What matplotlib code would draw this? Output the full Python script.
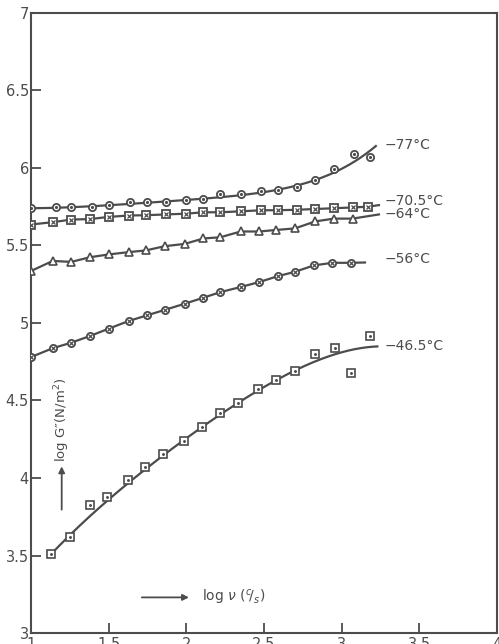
import numpy as np
import matplotlib
matplotlib.use("Agg")
import matplotlib.pyplot as plt

# log frequency (c/s) and log G'' (N/m^2) for each temperature
x_77 = [1.00, 1.16, 1.26, 1.39, 1.50, 1.64, 1.75, 1.87, 2.00, 2.11, 2.22, 2.35,
        2.48, 2.59, 2.71, 2.83, 2.95, 3.08, 3.18]
y_77 = [5.74, 5.75, 5.75, 5.75, 5.76, 5.78, 5.78, 5.78, 5.79, 5.80, 5.83, 5.83,
        5.85, 5.86, 5.88, 5.92, 5.99, 6.09, 6.07]
curve_x_77 = [1.00, 1.50, 2.00, 2.35, 2.59, 2.71, 2.83, 2.95, 3.08, 3.22]
curve_y_77 = [5.74, 5.76, 5.79, 5.83, 5.86, 5.88, 5.92, 5.975, 6.04, 6.14]

x_705 = [1.00, 1.14, 1.26, 1.38, 1.50, 1.63, 1.74, 1.87, 2.00, 2.11, 2.22, 2.35,
         2.48, 2.59, 2.71, 2.83, 2.95, 3.07, 3.17]
y_705 = [5.635, 5.65, 5.667, 5.67, 5.684, 5.693, 5.695, 5.70, 5.705, 5.714, 5.714,
         5.72, 5.727, 5.727, 5.73, 5.735, 5.74, 5.745, 5.75]
end_705 = (3.24, 5.76)

x_64 = [1.00, 1.14, 1.26, 1.38, 1.50, 1.63, 1.74, 1.86, 1.99, 2.11, 2.22, 2.35,
        2.47, 2.58, 2.70, 2.83, 2.95, 3.07]
y_64 = [5.335, 5.40, 5.394, 5.424, 5.442, 5.457, 5.468, 5.495, 5.51, 5.545, 5.553,
        5.59, 5.59, 5.60, 5.61, 5.655, 5.673, 5.673]
end_64 = (3.24, 5.70)

x_56 = [1.00, 1.14, 1.26, 1.38, 1.50, 1.63, 1.75, 1.86, 1.99, 2.11, 2.22, 2.35,
        2.47, 2.59, 2.70, 2.82, 2.94, 3.06]
y_56 = [4.78, 4.837, 4.873, 4.916, 4.963, 5.013, 5.05, 5.084, 5.124, 5.163, 5.199,
        5.232, 5.264, 5.302, 5.33, 5.371, 5.388, 5.388]
end_56 = (3.15, 5.39)

x_465 = [1.128, 1.249, 1.383, 1.492, 1.626, 1.734, 1.849, 1.983, 2.098, 2.22, 2.335,
         2.462, 2.577, 2.699, 2.826, 2.954, 3.063, 3.182]
y_465 = [3.513, 3.617, 3.825, 3.878, 3.989, 4.069, 4.153, 4.238, 4.331, 4.417, 4.484,
         4.574, 4.631, 4.687, 4.803, 4.839, 4.677, 4.916]
curve_x_465 = [1.128, 1.25, 1.40, 1.50, 1.75, 2.00, 2.25, 2.50, 2.70, 2.83, 2.95, 3.06, 3.23]
curve_y_465 = [3.513, 3.62, 3.77, 3.87, 4.07, 4.25, 4.43, 4.59, 4.69, 4.755, 4.80, 4.82, 4.85]

labels = ["\u221277\u00b0C", "\u221270.5\u00b0C", "\u221264\u00b0C", "\u221256\u00b0C", "\u221246.5\u00b0C"]
label_y = [6.145, 5.785, 5.70, 5.41, 4.85]

x_ticks = [1, 1.5, 2, 2.5, 3, 3.5, 4]
x_ticklabels = ["1", "1.5", "2", "2.5", "3", "3.5", "4"]
y_ticks = [3, 3.5, 4, 4.5, 5, 5.5, 6, 6.5, 7]
y_ticklabels = ["3", "3.5", "4", "4.5", "5", "5.5", "6", "6.5", "7"]

ink = "#4c4c4c"
lw = 1.6

fig = plt.figure(figsize=(4.99, 6.44), dpi=100)
ax = fig.add_axes([0.062, 0.017, 0.934, 0.963])
ax.set_xlim(1, 4)
ax.set_ylim(3, 7)


def smooth(xs, ys, n=200, deg=3):
    coef = np.polyfit(xs, ys, deg)
    xx = np.linspace(xs[0], xs[-1], n)
    return xx, np.polyval(coef, xx)


ms = 5.2
# -77 C: circles with centre dot
xx, yy = smooth(curve_x_77, curve_y_77, deg=5)
ax.plot(xx, yy, color=ink, lw=lw, zorder=2)
ax.plot(x_77, y_77, "o", ms=ms, mfc="white", mec=ink, mew=1.3, zorder=3)
ax.plot(x_77, y_77, ".", ms=2.5, color=ink, zorder=4)

# -70.5 C: squares with cross
ax.plot(x_705 + [end_705[0]], y_705 + [end_705[1]], color=ink, lw=lw, zorder=2)
ax.plot(x_705, y_705, "s", ms=ms, mfc="white", mec=ink, mew=1.3, zorder=3)
ax.plot(x_705, y_705, "x", ms=3, mew=0.9, color=ink, zorder=4)

# -64 C: triangles
ax.plot(x_64 + [end_64[0]], y_64 + [end_64[1]], color=ink, lw=lw, zorder=2)
ax.plot(x_64, y_64, "^", ms=5.6, mfc="white", mec=ink, mew=1.2, zorder=3)

# -56 C: circles with cross
ax.plot(x_56 + [end_56[0]], y_56 + [end_56[1]], color=ink, lw=lw, zorder=2)
ax.plot(x_56, y_56, "o", ms=ms, mfc="white", mec=ink, mew=1.3, zorder=3)
ax.plot(x_56, y_56, "x", ms=3, mew=0.9, color=ink, zorder=4)

# -46.5 C: squares with centre dot
xx, yy = smooth(curve_x_465, curve_y_465, deg=4)
ax.plot(xx, yy, color=ink, lw=lw, zorder=2)
ax.plot(x_465, y_465, "s", ms=ms, mfc="white", mec=ink, mew=1.2, zorder=3)
ax.plot(x_465, y_465, ".", ms=2.2, color=ink, zorder=4)

for lab, ly in zip(labels, label_y):
    ax.text(3.275, ly, lab, color=ink, fontsize=10, ha="left", va="center")

ax.set_xticks(x_ticks)
ax.set_xticklabels(x_ticklabels)
ax.set_yticks(y_ticks)
ax.set_yticklabels(y_ticklabels)
ax.tick_params(direction="in", length=7, width=1.3, colors=ink, labelsize=10.5, pad=1.5)
ax.tick_params(axis="x", pad=3)
for s in ax.spines.values():
    s.set_color(ink)
    s.set_linewidth(1.5)

# axis captions with arrows
ax.annotate("", xy=(2.035, 3.23), xytext=(1.696, 3.23),
            arrowprops=dict(arrowstyle="-|>", color=ink, lw=1.3, mutation_scale=9))
ax.text(2.098, 3.23, r"log $\nu$ ($^{c}\!/_{s}$)", color=ink, fontsize=10, ha="left", va="center")
ax.annotate("", xy=(1.198, 4.093), xytext=(1.198, 3.778),
            arrowprops=dict(arrowstyle="-|>", color=ink, lw=1.3, mutation_scale=9))
ax.text(1.204, 4.376, "log G\u2033(N/m$^2$)", color=ink, fontsize=9.5, rotation=90,
        ha="center", va="center")

fig.savefig("out.png", dpi=100)
